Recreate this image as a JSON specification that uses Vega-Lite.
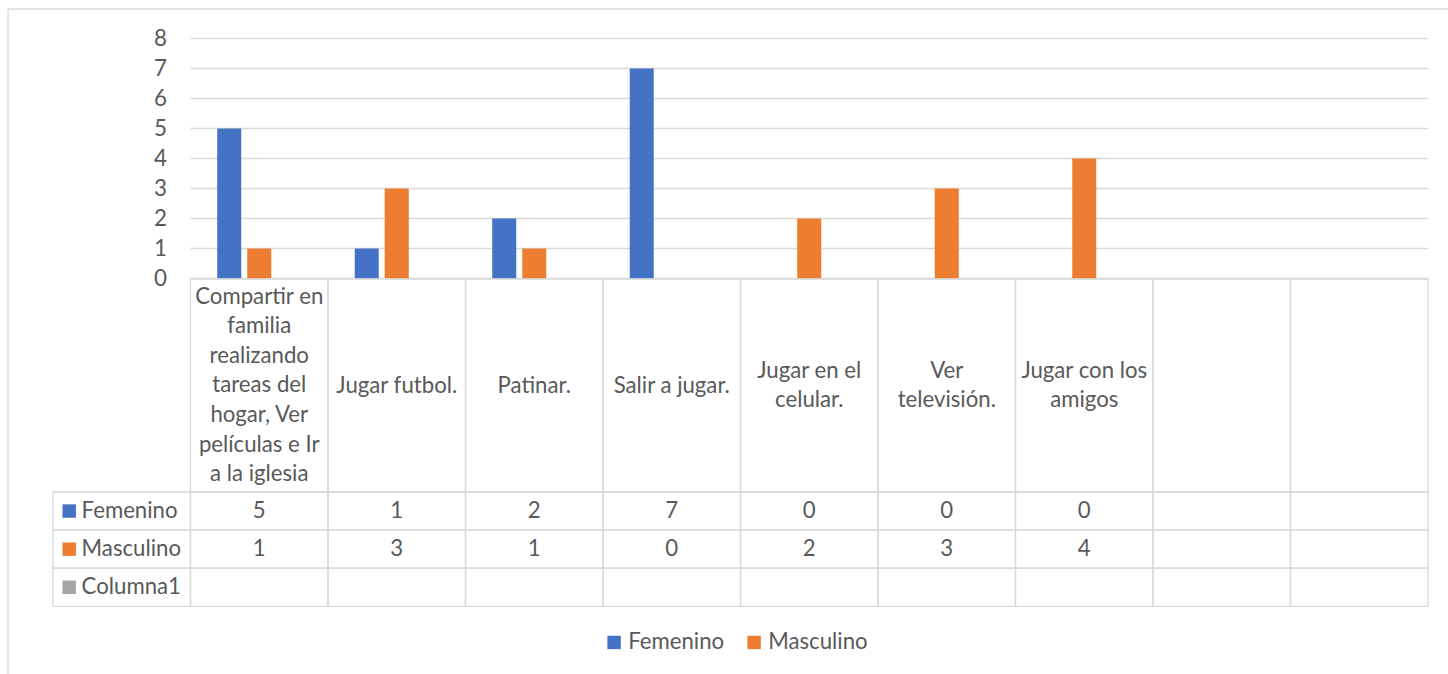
{
  "$schema": "https://vega.github.io/schema/vega-lite/v6.json",
  "width": 1440,
  "height": 665,
  "autosize": {"type": "none"},
  "padding": {"left": 8, "top": 9, "right": 0, "bottom": 0},
  "background": "white",
  "config": {
    "view": {"stroke": null},
    "text": {"font": "Lato", "fontSize": 22.2, "color": "#595959"}
  },
  "datasets": {
    "bars": [
      {"cat": "Compartir en familia realizando tareas del hogar, Ver películas e Ir a la iglesia", "serie": "Femenino", "value": 5},
      {"cat": "Compartir en familia realizando tareas del hogar, Ver películas e Ir a la iglesia", "serie": "Masculino", "value": 1},
      {"cat": "Jugar futbol.", "serie": "Femenino", "value": 1},
      {"cat": "Jugar futbol.", "serie": "Masculino", "value": 3},
      {"cat": "Patinar.", "serie": "Femenino", "value": 2},
      {"cat": "Patinar.", "serie": "Masculino", "value": 1},
      {"cat": "Salir a jugar.", "serie": "Femenino", "value": 7},
      {"cat": "Salir a jugar.", "serie": "Masculino", "value": 0},
      {"cat": "Jugar en el celular.", "serie": "Femenino", "value": 0},
      {"cat": "Jugar en el celular.", "serie": "Masculino", "value": 2},
      {"cat": "Ver televisión.", "serie": "Femenino", "value": 0},
      {"cat": "Ver televisión.", "serie": "Masculino", "value": 3},
      {"cat": "Jugar con los amigos", "serie": "Femenino", "value": 0},
      {"cat": "Jugar con los amigos", "serie": "Masculino", "value": 4}
    ],
    "cats": [
      {"cat": "Compartir en familia realizando tareas del hogar, Ver películas e Ir a la iglesia", "label": "Compartir en\nfamilia\nrealizando\ntareas del\nhogar, Ver\npelículas e Ir\na la iglesia"},
      {"cat": "Jugar futbol.", "label": "Jugar futbol."},
      {"cat": "Patinar.", "label": "Patinar."},
      {"cat": "Salir a jugar.", "label": "Salir a jugar."},
      {"cat": "Jugar en el celular.", "label": "Jugar en el\ncelular."},
      {"cat": "Ver televisión.", "label": "Ver\ntelevisión."},
      {"cat": "Jugar con los amigos", "label": "Jugar con los\namigos"},
      {"cat": "_8", "label": ""},
      {"cat": "_9", "label": ""}
    ],
    "grid": [{"v": 0}, {"v": 1}, {"v": 2}, {"v": 3}, {"v": 4}, {"v": 5}, {"v": 6}, {"v": 7}, {"v": 8}],
    "rows": [
      {"serie": "Femenino", "cols": ["_0", "Compartir en familia realizando tareas del hogar, Ver películas e Ir a la iglesia", "Jugar futbol.", "Patinar.", "Salir a jugar.", "Jugar en el celular.", "Ver televisión.", "Jugar con los amigos", "_8", "_9"]},
      {"serie": "Masculino", "cols": ["_0", "Compartir en familia realizando tareas del hogar, Ver películas e Ir a la iglesia", "Jugar futbol.", "Patinar.", "Salir a jugar.", "Jugar en el celular.", "Ver televisión.", "Jugar con los amigos", "_8", "_9"]},
      {"serie": "Columna1", "cols": ["_0", "Compartir en familia realizando tareas del hogar, Ver películas e Ir a la iglesia", "Jugar futbol.", "Patinar.", "Salir a jugar.", "Jugar en el celular.", "Ver televisión.", "Jugar con los amigos", "_8", "_9"]}
    ]
  },
  "resolve": {"scale": {"x": "independent", "y": "independent"}},
  "layer": [
    {
      "data": {"values": [{}]},
      "mark": {"type": "rule", "color": "#D9D9D9", "strokeWidth": 1.3},
      "encoding": {
        "y": {"datum": 0, "type": "quantitative", "axis": null, "scale": {"domain": [0, 1], "range": [0, 665]}}
      }
    },
    {
      "data": {"values": [{}]},
      "mark": {"type": "rule", "color": "#D9D9D9", "strokeWidth": 1.3},
      "encoding": {
        "x": {"datum": 0, "type": "quantitative", "axis": null, "scale": {"domain": [0, 1], "range": [0, 1440]}}
      }
    },
    {
      "data": {"name": "grid"},
      "mark": {"type": "rule", "color": "#D9D9D9", "strokeWidth": 1.3},
      "encoding": {
        "y": {"field": "v", "type": "quantitative", "axis": null, "scale": {"domain": [0, 8], "range": [269.5, 29.5], "nice": false}},
        "x": {"datum": 0, "type": "quantitative", "axis": null, "scale": {"domain": [0, 1], "range": [182.5, 1420]}},
        "x2": {"datum": 1}
      }
    },
    {
      "data": {"name": "bars"},
      "mark": {"type": "bar"},
      "encoding": {
        "x": {
          "field": "cat", "type": "nominal", "axis": null,
          "scale": {
            "domain": ["_0", "Compartir en familia realizando tareas del hogar, Ver películas e Ir a la iglesia", "Jugar futbol.", "Patinar.", "Salir a jugar.", "Jugar en el celular.", "Ver televisión.", "Jugar con los amigos", "_8", "_9"],
            "range": [45, 1420], "paddingInner": 0, "paddingOuter": 0
          }
        },
        "xOffset": {
          "field": "serie", "type": "nominal",
          "scale": {"domain": ["Femenino", "Masculino", "Columna1"], "paddingInner": 0.2, "paddingOuter": 0.89}
        },
        "y": {
          "field": "value", "type": "quantitative",
          "scale": {"domain": [0, 8], "range": [269.5, 29.5], "nice": false},
          "axis": {
            "offset": -182.5, "grid": false, "domain": false, "ticks": false, "tickSize": 0,
            "labelPadding": 24, "values": [0, 1, 2, 3, 4, 5, 6, 7, 8], "title": null,
            "labelFont": "Lato", "labelFontSize": 22.4, "labelColor": "#595959"
          }
        },
        "color": {
          "field": "serie", "type": "nominal",
          "scale": {"domain": ["Femenino", "Masculino", "Columna1"], "range": ["#4472C4", "#ED7D31", "#A5A5A5"]},
          "legend": {
            "orient": "none", "legendX": 595, "legendY": 622, "direction": "horizontal",
            "values": ["Femenino", "Masculino"], "title": null, "symbolType": "square",
            "symbolSize": 180, "symbolStrokeWidth": 0, "symbolOpacity": 1, "labelFont": "Lato", "labelFontSize": 22.2,
            "labelColor": "#595959", "labelOffset": 3, "columnPadding": 18, "padding": 0
          }
        }
      }
    },
    {
      "data": {"name": "cats"},
      "encoding": {
        "x": {
          "field": "cat", "type": "nominal", "axis": null,
          "scale": {
            "domain": ["_0", "Compartir en familia realizando tareas del hogar, Ver películas e Ir a la iglesia", "Jugar futbol.", "Patinar.", "Salir a jugar.", "Jugar en el celular.", "Ver televisión.", "Jugar con los amigos", "_8", "_9"],
            "range": [45, 1420], "paddingInner": 0, "paddingOuter": 0
          }
        },
        "y": {"datum": "h", "type": "nominal", "axis": null, "scale": {"domain": ["h"], "range": [270, 483], "paddingInner": 0, "paddingOuter": 0}}
      },
      "layer": [
        {
          "mark": {"type": "rect", "fill": "white", "fillOpacity": 0, "stroke": "#D9D9D9", "strokeWidth": 1.3}
        },
        {
          "transform": [{"filter": {"field": "cat", "oneOf": ["Jugar futbol.", "Patinar.", "Salir a jugar."]}}],
          "mark": {"type": "text", "lineBreak": "\n", "lineHeight": 29.6, "baseline": "middle", "align": "center"},
          "encoding": {"text": {"field": "label"}}
        },
        {
          "transform": [{"filter": {"field": "cat", "oneOf": ["Jugar en el celular.", "Ver televisión.", "Jugar con los amigos"]}}],
          "mark": {"type": "text", "lineBreak": "\n", "lineHeight": 29.6, "baseline": "middle", "align": "center", "dy": -14.8},
          "encoding": {"text": {"field": "label"}}
        },
        {
          "transform": [{"filter": {"field": "cat", "oneOf": ["Compartir en familia realizando tareas del hogar, Ver películas e Ir a la iglesia"]}}],
          "mark": {"type": "text", "lineBreak": "\n", "lineHeight": 29.6, "baseline": "middle", "align": "center", "dy": -88.8},
          "encoding": {"text": {"field": "label"}}
        }
      ]
    },
    {
      "layer": [
        {
          "data": {"name": "rows"},
          "transform": [{"flatten": ["cols"]}],
          "mark": {"type": "rect", "fill": "white", "fillOpacity": 0, "stroke": "#D9D9D9", "strokeWidth": 1.3},
          "encoding": {
            "x": {
              "field": "cols", "type": "nominal", "axis": null,
              "scale": {
                "domain": ["_0", "Compartir en familia realizando tareas del hogar, Ver películas e Ir a la iglesia", "Jugar futbol.", "Patinar.", "Salir a jugar.", "Jugar en el celular.", "Ver televisión.", "Jugar con los amigos", "_8", "_9"],
                "range": [45, 1420], "paddingInner": 0, "paddingOuter": 0
              }
            },
            "y": {"field": "serie", "type": "nominal", "axis": null, "scale": {"domain": ["Femenino", "Masculino", "Columna1"], "range": [483, 597.3], "paddingInner": 0, "paddingOuter": 0}}
          }
        },
        {
          "data": {"name": "bars"},
          "mark": {"type": "text", "baseline": "middle", "align": "center"},
          "encoding": {
            "x": {"field": "cat", "type": "nominal"},
            "y": {"field": "serie", "type": "nominal"},
            "text": {"field": "value", "type": "quantitative"}
          }
        },
        {
          "data": {"name": "rows"},
          "mark": {"type": "point", "shape": "square", "filled": true, "size": 180, "opacity": 1},
          "encoding": {
            "x": {"datum": "_0", "type": "nominal", "bandPosition": 0.118},
            "y": {"field": "serie", "type": "nominal"},
            "color": {"field": "serie", "type": "nominal"}
          }
        },
        {
          "data": {"name": "rows"},
          "mark": {"type": "text", "baseline": "middle", "align": "left"},
          "encoding": {
            "x": {"datum": "_0", "type": "nominal", "bandPosition": 0.208},
            "y": {"field": "serie", "type": "nominal"},
            "text": {"field": "serie"}
          }
        }
      ]
    }
  ]
}
